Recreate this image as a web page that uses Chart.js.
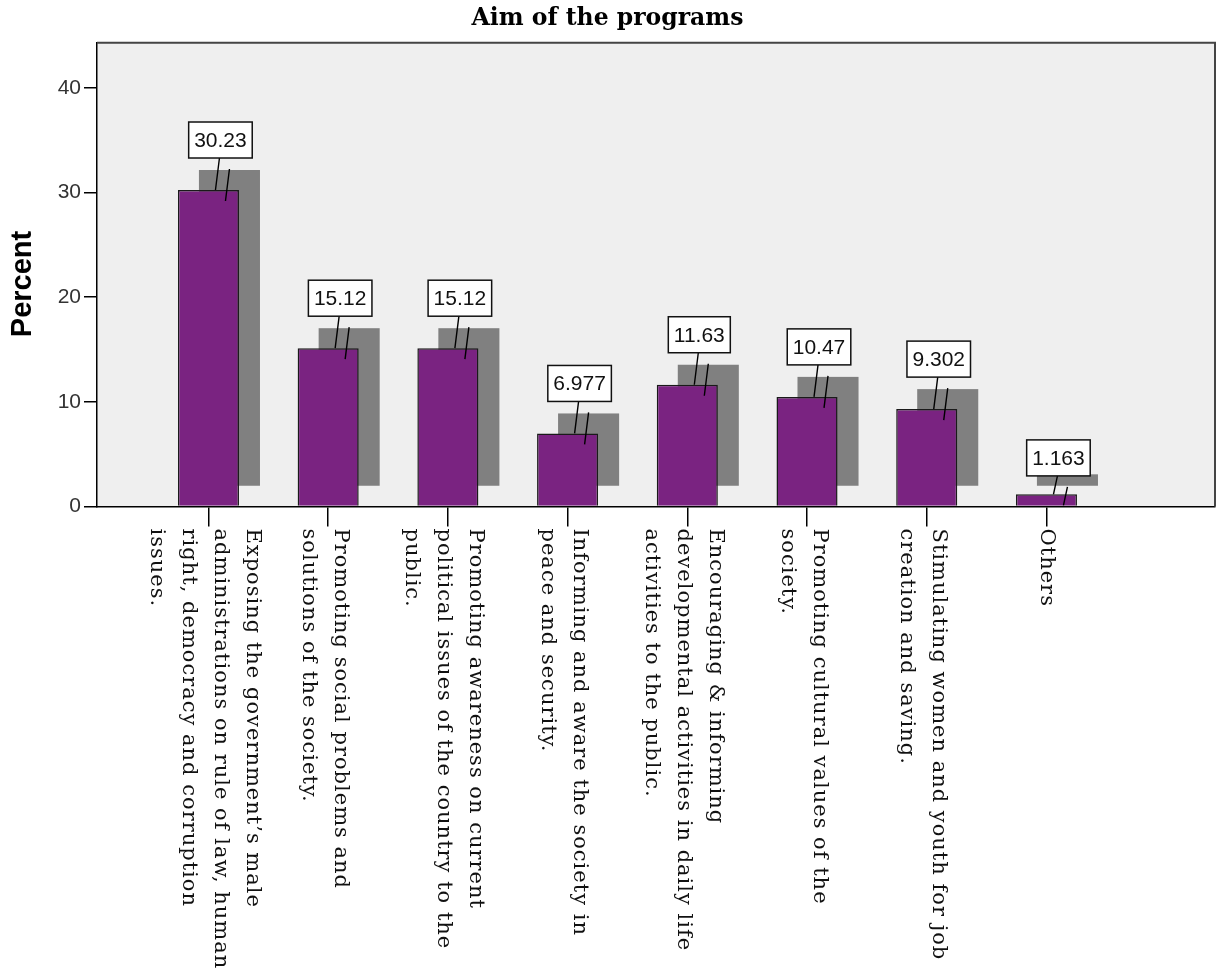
<!DOCTYPE html>
<html><head><meta charset="utf-8">
<script src="https://cdn.jsdelivr.net/npm/chart.js@4.4.0/dist/chart.umd.min.js"></script>
<style>html,body{margin:0;padding:0;background:#fff;overflow:hidden}canvas{display:block}</style>
</head><body>
<canvas id="c" width="1217" height="973"></canvas>
<script>
const categories = [
  ["Exposing the government\u2019s male", "administrations on rule of law, human", "right, democracy and corruption", "issues."],
  ["Promoting social problems and", "solutions of the society."],
  ["Promoting awareness on current", "political issues of the country to the", "public."],
  ["Informing and aware the society in", "peace and security."],
  ["Encouraging & informing", "developmental activities in daily life", "activities to the public."],
  ["Promoting cultural values of the", "society."],
  ["Stimulating women and youth for job", "creation and saving."],
  ["Others"]
];
const percents = [30.23, 15.12, 15.12, 6.977, 11.63, 10.47, 9.302, 1.163];
const yTicks = [0, 10, 20, 30, 40];
const chartTitle = "Aim of the programs";
const yTitle = "Percent";

const PURPLE = '#7a2381';
const SHADOW = '#808080';
const PLOT_BG = '#efefef';

const bgPlugin = {
  id: 'bg',
  beforeDraw(chart) {
    const {ctx, chartArea: a} = chart;
    ctx.save();
    ctx.fillStyle = '#fff';
    ctx.fillRect(0, 0, chart.width, chart.height);
    ctx.fillStyle = PLOT_BG;
    ctx.fillRect(a.left, a.top, a.right - a.left, a.bottom - a.top);
    ctx.restore();
  },
  afterDraw(chart) {
    const {ctx, chartArea: a} = chart;
    ctx.save();
    ctx.strokeStyle = '#444';
    ctx.lineWidth = 2;
    ctx.beginPath();
    ctx.moveTo(a.left, a.top);
    ctx.lineTo(a.right, a.top);
    ctx.lineTo(a.right, a.bottom);
    ctx.stroke();
    // y axis title
    ctx.fillStyle = '#000';
    ctx.font = 'bold 29px "Liberation Sans", Arial, sans-serif';
    ctx.textAlign = 'center';
    ctx.textBaseline = 'middle';
    ctx.translate(22.5, 284);
    ctx.rotate(-Math.PI / 2);
    ctx.fillText(yTitle, 0, 0);
    ctx.restore();
  }
};

const shadowPlugin = {
  id: 'shadow',
  beforeDatasetsDraw(chart) {
    const {ctx} = chart;
    const meta = chart.getDatasetMeta(0);
    ctx.save();
    ctx.fillStyle = SHADOW;
    meta.data.forEach(el => {
      const w = el.width;
      ctx.fillRect(el.x - w / 2 + 21, el.y - 20, w, el.base - el.y);
    });
    ctx.restore();
  }
};

const valueLabelPlugin = {
  id: 'valueLabels',
  afterDatasetsDraw(chart) {
    const {ctx} = chart;
    const meta = chart.getDatasetMeta(0);
    ctx.save();
    ctx.font = '21px "Liberation Sans", Arial, sans-serif';
    meta.data.forEach((el, i) => {
      const txt = Number(percents[i]).toPrecision(4);
      const h = el.base - el.y;
      const gap = Math.min(32, h + 7);
      const tw = ctx.measureText(txt).width;
      const bw = tw + 11, bh = 36;
      const bcx = el.x + 12;
      const bb = el.y - gap;
      ctx.strokeStyle = '#000';
      ctx.lineWidth = 1.4;
      ctx.beginPath();
      ctx.moveTo(bcx - 1, bb);
      ctx.lineTo(el.x + 7, el.y);
      ctx.moveTo(bcx + 9, bb + 11);
      ctx.lineTo(el.x + 17, el.y + 11);
      ctx.stroke();
      ctx.fillStyle = '#fff';
      ctx.fillRect(bcx - bw / 2, bb - bh, bw, bh);
      ctx.lineWidth = 1.5;
      ctx.strokeStyle = '#111';
      ctx.strokeRect(bcx - bw / 2, bb - bh, bw, bh);
      ctx.fillStyle = '#111';
      ctx.textAlign = 'center';
      ctx.textBaseline = 'middle';
      ctx.fillText(txt, bcx, bb - bh / 2 + 1);
    });
    ctx.restore();
  }
};

const xLabelPlugin = {
  id: 'xLabels',
  afterDraw(chart) {
    const {ctx} = chart;
    const xs = chart.scales.x;
    const LH = 32;
    ctx.save();
    ctx.font = '21px "DejaVu Serif", serif';
    if ('letterSpacing' in ctx) ctx.letterSpacing = '1px';
    ctx.fillStyle = '#111';
    ctx.textAlign = 'left';
    ctx.textBaseline = 'middle';
    categories.forEach((lines, i) => {
      const px = xs.getPixelForValue(i);
      const n = lines.length;
      const cx = px - (n > 1 ? 4 : 0);
      ctx.save();
      ctx.translate(cx, xs.top + 22);
      ctx.rotate(Math.PI / 2);
      lines.forEach((t, j) => ctx.fillText(t, 0, (j - (n - 1) / 2) * LH));
      ctx.restore();
    });
    ctx.restore();
  }
};

new Chart(document.getElementById('c'), {
  type: 'bar',
  data: {
    datasets: [{
      data: percents.map((v, i) => ({x: i, y: v})),
      backgroundColor: PURPLE,
      borderColor: '#1a1a1a',
      borderWidth: 1.5,
      categoryPercentage: 1,
      barPercentage: 0.51
    }]
  },
  options: {
    responsive: false,
    animation: false,
    events: [],
    layout: {padding: {left: 0, right: 2, top: 0, bottom: 0}},
    plugins: {
      legend: {display: false},
      tooltip: {enabled: false},
      title: {
        display: true,
        text: chartTitle,
        color: '#000',
        font: {family: '"DejaVu Serif", serif', weight: 'bold', size: 23.5},
        padding: {top: 5, bottom: 9.5}
      }
    },
    scales: {
      x: {
        type: 'linear',
        min: -0.931,
        max: 8.408,
        offset: false,
        afterBuildTicks: s => { s.ticks = categories.map((c, i) => ({value: i})); },
        ticks: {display: false},
        grid: {offset: false, drawOnChartArea: false, drawTicks: true, tickLength: 20, color: '#000', lineWidth: 1.5},
        border: {color: '#000', width: 1.5},
        afterFit: s => { s.height = 973 - 506.5; }
      },
      y: {
        min: 0,
        max: 44.3,
        afterBuildTicks: s => { s.ticks = yTicks.map(v => ({value: v})); },
        ticks: {font: {family: '"Liberation Sans", Arial, sans-serif', size: 21}, color: '#333', padding: 3},
        grid: {drawOnChartArea: false, tickLength: 13, color: '#000', lineWidth: 1.5},
        border: {color: '#000', width: 1.5},
        title: {display: false},
        afterFit: s => { s.width = 97; }
      }
    }
  },
  plugins: [bgPlugin, shadowPlugin, valueLabelPlugin, xLabelPlugin]
});
</script>
</body></html>
